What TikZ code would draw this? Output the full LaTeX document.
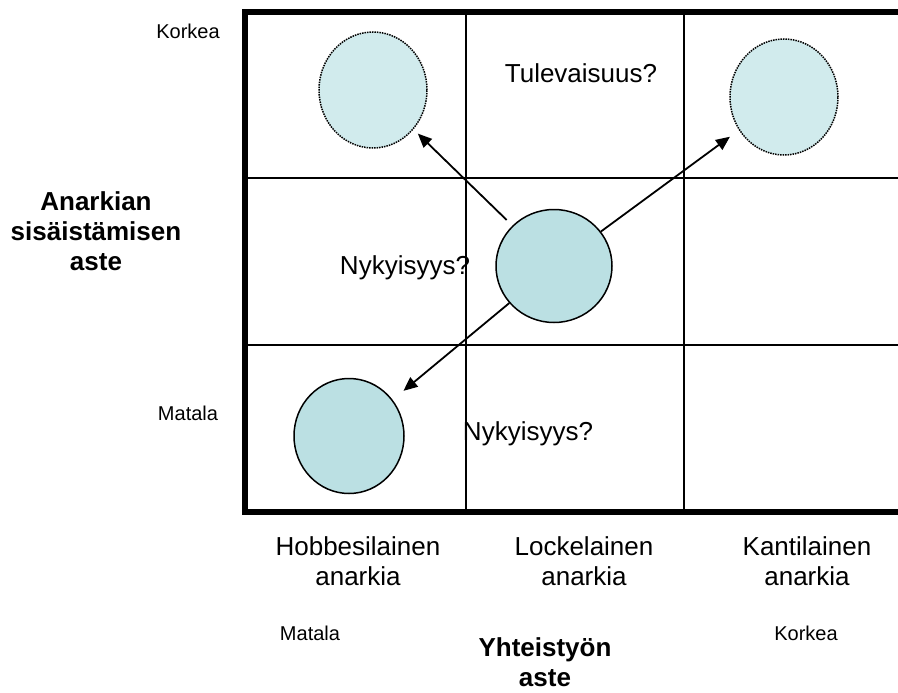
\documentclass[tikz,border=0pt]{standalone}
\usepackage{xcolor}
\usepackage{fontspec}
\setmainfont{Liberation Sans}
\usepackage{tikz}
\usetikzlibrary{positioning,shapes,arrows.meta}

\definecolor{nowfill}{HTML}{BBE0E3}
\definecolor{futurefill}{HTML}{D1EBED}

\begin{document}
\begin{tikzpicture}[
  x=1pt, y=-1pt,
  celltext/.style={font=\fontsize{26}{30}\selectfont, align=center, inner sep=0pt},
  axistitle/.style={font=\fontsize{26}{30}\selectfont\bfseries, align=center, inner sep=0pt},
  scaletext/.style={font=\fontsize{20}{24}\selectfont, inner sep=0pt},
  nowcircle/.style={ellipse, draw, line width=1.5pt, fill=nowfill, minimum width=114pt, minimum height=114pt, inner sep=0pt},
  futurecircle/.style={ellipse, draw, densely dotted, line width=1.5pt, fill=futurefill, minimum width=108pt, minimum height=116pt, inner sep=0pt},
  arrow/.style={-{Triangle[length=14pt,width=12pt]}, line width=1.8pt}
]
\useasboundingbox (0,0) rectangle (898,693);

% grid lines
\draw[line width=2pt] (466,12) -- (466,512) (684,12) -- (684,512)
  (245,178) -- (900,178) (245,345) -- (900,345);

% frame
\draw[line width=6pt, line join=miter] (900,12) -- (245,12) -- (245,512) -- (900,512);

% circles
\node[futurecircle] (hobbesfut) at (373,90) {};
\node[futurecircle] (kantfut) at (784,97) {};
\node[nowcircle, minimum width=116pt, minimum height=113pt] (now) at (554,266) {};
\node[nowcircle, minimum width=110pt, minimum height=115pt] (hobbesnow) at (349,436) {};

% arrows from the present
\draw[arrow, shorten <=8pt, shorten >=6pt] (now) -- (hobbesfut);
\draw[arrow, shorten >=11pt] (now) -- (kantfut);
\draw[arrow, shorten >=14pt] (now) -- (hobbesnow);

% cell texts
\node[celltext, anchor=base] (tuleva) at (581,83) {Tulevaisuus?};
\node[celltext, anchor=base] (nyky1) at (405,274) {Nykyisyys?};
\node[celltext, anchor=base] (nyky2) at (528,440) {Nykyisyys?};

% vertical axis
\node[axistitle] (ytitle) at (96,231) {Anarkian\\sisäistämisen\\aste};
\node[scaletext, anchor=base] (yhigh) at (188,39) {Korkea};
\node[scaletext, anchor=base] (ylow) at (188,420) {Matala};

% horizontal axis
\node[celltext] (hobbes) at (358,561) {Hobbesilainen\\anarkia};
\node[celltext] (locke) at (584,561) {Lockelainen\\anarkia};
\node[celltext] (kant) at (807,561) {Kantilainen\\anarkia};
\node[scaletext, anchor=base] (xlow) at (310,640) {Matala};
\node[scaletext, anchor=base] (xhigh) at (806,640) {Korkea};
\node[axistitle] (xtitle) at (545,662) {Yhteistyön\\aste};

\end{tikzpicture}
\end{document}
